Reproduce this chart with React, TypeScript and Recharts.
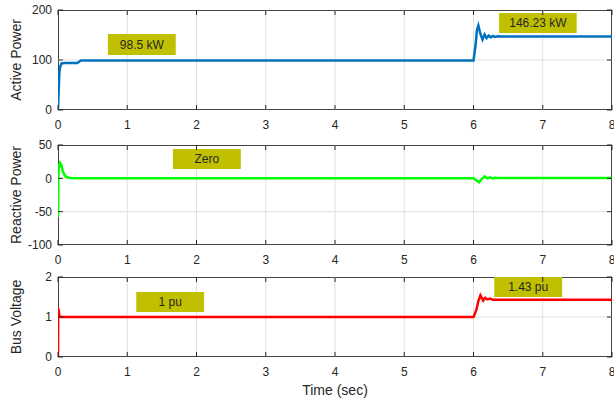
import React from 'react';
import { LineChart, Line, XAxis, YAxis, CartesianGrid, ReferenceArea } from 'recharts';

// tick labels
const timeTicks = [0, 1, 2, 3, 4, 5, 6, 7, 8];
const activeTicks = [0, 100, 200];
const reactiveTicks = [-100, -50, 0, 50];
const busTicks = [0, 1, 2];

// active power (kW)
const activeTime = [0, 0.01, 0.02, 0.03, 0.05, 0.1, 0.28, 0.3, 0.33, 1, 6.0, 6.03, 6.05, 6.07, 6.1, 6.13, 6.16, 6.19, 6.22, 6.25, 6.28, 6.31, 6.35, 6.4, 8];
const activePower = [0, 40, 75, 86, 93, 94, 94, 96, 99, 99, 99, 130, 160, 169, 152, 141, 151, 144, 149, 145, 148, 146, 147.5, 147, 147];

// reactive power
const reactiveTime = [0, 0.005, 0.01, 0.03, 0.05, 0.07, 0.1, 0.13, 0.18, 0.3, 6.0, 6.04, 6.08, 6.12, 6.16, 6.2, 6.24, 6.28, 6.32, 6.36, 8];
const reactivePower = [-58, 0, 15, 23, 20, 10, 4, 1.5, 0.5, 0, 0, -3, -6, -1, 3, 0, 1.5, 0, 1, 0.5, 0.5];

// bus voltage (pu)
const busTime = [0, 0.003, 0.01, 0.02, 0.04, 6.0, 6.04, 6.07, 6.1, 6.14, 6.17, 6.2, 6.24, 6.28, 8];
const busVoltage = [0, 1.2, 1.18, 1.02, 1.0, 1.0, 1.17, 1.4, 1.54, 1.41, 1.48, 1.44, 1.46, 1.43, 1.43];

const AXIS = '#262626';
const FRAME = '#444';
const GRID = '#e0e0e0';
const BOX = '#c0c000';
const FONT = '"Liberation Sans", Arial, Helvetica, sans-serif';
const PLOT_W = 554;

const zip = (t: number[], v: number[]) => t.map((x, i) => ({ t: x, v: v[i] }));
const inner = (ticks: number[]) => ticks.slice(1, -1);

function XTick({ x, y, payload, plotH }: any) {
  const axisY = y - 10;
  return (
    <g>
      <line x1={x} x2={x} y1={axisY} y2={axisY - 5} stroke={AXIS} />
      <line x1={x} x2={x} y1={axisY - plotH} y2={axisY - plotH + 5} stroke={AXIS} />
      <text x={x} y={y} dy="0.71em" textAnchor="middle" fontSize={12} fill={AXIS} fontFamily={FONT}>
        {payload.value}
      </text>
    </g>
  );
}

function YTick({ x, y, payload }: any) {
  const axisX = x + 6;
  return (
    <g>
      <line x1={axisX} x2={axisX + 5} y1={y} y2={y} stroke={AXIS} />
      <line x1={axisX + PLOT_W} x2={axisX + PLOT_W - 5} y1={y} y2={y} stroke={AXIS} />
      <text x={x} y={y} dy="0.35em" textAnchor="end" fontSize={12} fill={AXIS} fontFamily={FONT}>
        {payload.value}
      </text>
    </g>
  );
}

const yLabel = (text: string) => (props: any) => {
  const vb = props.viewBox;
  const cx = vb.x + 16;
  const cy = vb.y + vb.height / 2;
  return (
    <text x={cx} y={cy} transform={`rotate(-90, ${cx}, ${cy})`} textAnchor="middle" dy="0.35em"
      fontSize={14} fill={AXIS} fontFamily={FONT}>
      {text}
    </text>
  );
};

const timeLabel = (props: any) => {
  const vb = props.viewBox;
  return (
    <text x={vb.x + vb.width / 2} y={vb.y + 37.5} textAnchor="middle" fontSize={14} fill={AXIS} fontFamily={FONT}>
      Time (sec)
    </text>
  );
};

interface Note { x1: number; x2: number; y1: number; y2: number; text: string }

interface PanelProps {
  top: number;
  height: number;
  plotH: number;
  xAxisHeight: number;
  data: { t: number; v: number }[];
  color: string;
  domain: [number, number];
  ticks: number[];
  label: string;
  notes: Note[];
  withTime?: boolean;
}

function Panel({ top, height, plotH, xAxisHeight, data, color, domain, ticks, label, notes, withTime }: PanelProps) {
  return (
    <div style={{ position: 'absolute', left: 0, top, width: 614, height }}>
      {/* axes box sits under the svg so the trace can cover it at t = 0 */}
      <div style={{ position: 'absolute', left: 58, top: 10, width: PLOT_W, height: plotH, boxSizing: 'border-box', border: `1px solid ${FRAME}` }} />
      <div style={{ position: 'absolute', left: 0, top: 0 }}>
        <LineChart width={614} height={height} data={data} margin={{ top: 10, right: 2, bottom: 0, left: 0 }}>
          <CartesianGrid stroke={GRID} verticalValues={inner(timeTicks)} horizontalValues={inner(ticks)} />
          <XAxis
            dataKey="t"
            type="number"
            domain={[0, 8]}
            ticks={timeTicks}
            interval={0}
            allowDataOverflow
            height={xAxisHeight}
            axisLine={false}
            tickLine={false}
            tickSize={0}
            tickMargin={10}
            tick={(p: any) => <XTick {...p} plotH={plotH} />}
            label={withTime ? { content: timeLabel } : undefined}
          />
          <YAxis
            type="number"
            domain={domain}
            ticks={ticks}
            interval={0}
            allowDataOverflow
            width={58}
            axisLine={false}
            tickLine={false}
            tickSize={0}
            tickMargin={6}
            tick={(p: any) => <YTick {...p} />}
            label={{ content: yLabel(label) }}
          />
          {notes.map((n) => (
            <ReferenceArea key={n.text} x1={n.x1} x2={n.x2} y1={n.y1} y2={n.y2} fill={BOX} fillOpacity={1} stroke="none"
              ifOverflow="visible"
              label={{ value: n.text, position: 'center', fontSize: 12, fill: AXIS, fontFamily: FONT }} />
          ))}
          <Line type="linear" dataKey="v" stroke={color} strokeWidth={2.5} dot={false} isAnimationActive={false} />
        </LineChart>
      </div>
    </div>
  );
}

export default function App() {
  return (
    <div style={{ position: 'relative', width: 614, height: 402, background: '#fff', fontFamily: FONT }}>
      <style>{'html, body { margin: 0; padding: 0; overflow: hidden; }'}</style>
      <Panel
        top={0}
        height={135}
        plotH={100}
        xAxisHeight={25}
        data={zip(activeTime, activePower)}
        color="#0072bd"
        domain={[0, 200]}
        ticks={activeTicks}
        label="Active Power"
        notes={[
          { x1: 0.72, x2: 1.7, y1: 110, y2: 152, text: '98.5 kW' },
          { x1: 6.37, x2: 7.49, y1: 154, y2: 194, text: '146.23 kW' },
        ]}
      />
      <Panel
        top={135}
        height={132}
        plotH={100}
        xAxisHeight={22}
        data={zip(reactiveTime, reactivePower)}
        color="#00ff00"
        domain={[-100, 50]}
        ticks={reactiveTicks}
        label="Reactive Power"
        notes={[{ x1: 1.66, x2: 2.64, y1: 14, y2: 44, text: 'Zero' }]}
      />
      <Panel
        top={267}
        height={135}
        plotH={80}
        xAxisHeight={45}
        data={zip(busTime, busVoltage)}
        color="#ff0000"
        domain={[0, 2]}
        ticks={busTicks}
        label="Bus Voltage"
        notes={[
          { x1: 1.13, x2: 2.11, y1: 1.125, y2: 1.625, text: '1 pu' },
          { x1: 6.3, x2: 7.28, y1: 1.5, y2: 2.0, text: '1.43 pu' },
        ]}
        withTime
      />
    </div>
  );
}
